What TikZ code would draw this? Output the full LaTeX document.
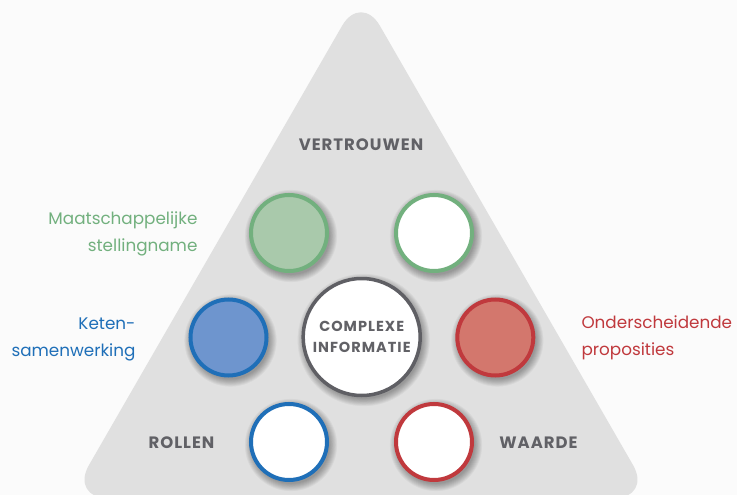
\documentclass[tikz,border=0pt]{standalone}
\usepackage{fontspec}
\setmainfont{Poppins}
\definecolor{bgc}{HTML}{FBFBFB}
\definecolor{tric}{HTML}{E0E0E0}
\definecolor{txtgray}{HTML}{616166}
\definecolor{gfill}{HTML}{A9C9AB}
\definecolor{gline}{HTML}{72B07E}
\definecolor{bfill}{HTML}{6E95CE}
\definecolor{bline}{HTML}{1F6FB8}
\definecolor{rfill}{HTML}{D3776D}
\definecolor{rline}{HTML}{C0393D}
\definecolor{cline}{HTML}{5F5F64}
\newcommand\softshade[3]{%
  \foreach \k in {1,...,9}{\fill[black,opacity=0.04] (#1+2,#2+3) circle ({#3-2+\k*0.9});}}
\tikzset{
  smallc/.style={circle,minimum size=76pt,inner sep=0pt,line width=4pt},
  bigc/.style={circle,minimum size=117pt,inner sep=0pt,line width=3.5pt,draw=cline,fill=white,
    font=\bfseries\fontsize{14.5}{21}\selectfont\addfontfeatures{LetterSpace=7},text=txtgray,align=center},
  captxt/.style={font=\bfseries\fontsize{16.5}{19}\selectfont\addfontfeatures{LetterSpace=6},text=txtgray},
  sidetxt/.style={font=\fontsize{16.8}{27}\selectfont}
}
\begin{document}
\begin{tikzpicture}[x=1pt,y=-1pt]
\useasboundingbox (0,0) rectangle (737,495);
\fill[bgc] (0,0) rectangle (737,495);
\fill[tric,rounded corners=38pt] (361,498) -- (652,498) -- (361,-7) -- (70,498) -- cycle;
% shadows
\softshade{361.7}{337}{60}
\softshade{289}{233}{40}
\softshade{434}{233}{40}
\softshade{228.5}{337.5}{40}
\softshade{495.3}{337.5}{40}
\softshade{289}{442}{40}
\softshade{434}{442}{40}
% circles
\node[bigc] (ci) at (361.7,337) {COMPLEXE\\INFORMATIE};
\node[smallc,fill=gfill,draw=gline] (g1) at (289,233) {};
\node[smallc,fill=white,draw=gline] (g2) at (434,233) {};
\node[smallc,fill=bfill,draw=bline] (b1) at (228.5,337.5) {};
\node[smallc,fill=rfill,draw=rline] (r1) at (495.3,337.5) {};
\node[smallc,fill=white,draw=bline] (b2) at (289,442) {};
\node[smallc,fill=white,draw=rline] (r2) at (434,442) {};
% captions
\node[captxt] (vt) at (361,145) {VERTROUWEN};
\node[captxt] (ro) at (181.5,443) {ROLLEN};
\node[captxt] (wa) at (538.5,443) {WAARDE};
\node[sidetxt,text=gline,anchor=east,align=right] (ms) at (201,234) {Maatschappelijke\\stellingname};
\node[sidetxt,text=bline,anchor=east,align=right] (ks) at (139,339.5) {Keten-\\samenwerking};
\node[sidetxt,text=rline,anchor=west,align=left] (op) at (578,338) {Onderscheidende\\proposities};
\end{tikzpicture}
\end{document}
